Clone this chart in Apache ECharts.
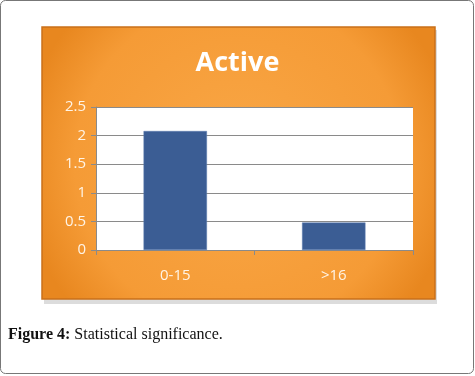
<!DOCTYPE html>
<html>
<head>
<meta charset="utf-8">
<script src="https://cdn.jsdelivr.net/npm/echarts@6/dist/echarts.min.js"></script>
<style>
  html, body { margin: 0; padding: 0; background: #fff; }
  #main { width: 475px; height: 376px; }
</style>
</head>
<body>
<div id="main"></div>
<script>
// chart data
var categories = ['0-15', '>16'];
var values = [2.08, 0.48];
var yTicks = [0, 0.5, 1, 1.5, 2, 2.5];

var myChart = echarts.init(document.getElementById('main'));

myChart.setOption({
    animation: false,
    graphic: [
        // outer frame
        { type: 'rect', shape: { x: 0.5, y: 0.5, width: 473, height: 373, r: 5 },
          style: { fill: '#fff', stroke: '#777', lineWidth: 1 }, z: -10 },
        // shadow of orange panel
        { type: 'rect', shape: { x: 44, y: 30, width: 393, height: 274 },
          style: { fill: '#dcdcdc' }, z: -9 },
        // orange panel
        { type: 'rect', shape: { x: 42, y: 27, width: 393, height: 272 },
          style: {
              fill: new echarts.graphic.RadialGradient(0.5, 0.5, 0.8, [
                  { offset: 0, color: '#f9a746' },
                  { offset: 0.75, color: '#f59b36' },
                  { offset: 1, color: '#e8871f' }
              ]),
              stroke: '#c9701a', lineWidth: 1.5
          }, z: -8 },
        // caption
        { type: 'text', left: 8, top: 327,
          style: {
              text: '{b|Figure 4:} Statistical significance.',
              rich: {
                  b: { fontFamily: 'Liberation Serif', fontWeight: 'bold', fontSize: 16, fill: '#111' }
              },
              fontFamily: 'Liberation Serif', fontSize: 16, fill: '#111'
          } }
    ],
    title: {
        text: 'Active',
        left: 'center',
        top: 45,
        textStyle: { color: '#fff', fontSize: 27, fontWeight: 'bold', fontFamily: 'Open Sans' }
    },
    grid: {
        left: 96, right: 62, top: 107, bottom: 126,
        show: true, backgroundColor: '#fff', borderWidth: 0
    },
    xAxis: {
        type: 'category',
        data: categories,
        axisLine: { lineStyle: { color: '#8a8a8a' } },
        axisTick: { show: true, length: 5, lineStyle: { color: '#8a8a8a' } },
        axisLabel: { color: '#fff4e6', fontSize: 15, margin: 18, fontFamily: 'Open Sans' }
    },
    yAxis: {
        type: 'value',
        min: yTicks[0],
        max: yTicks[yTicks.length - 1],
        interval: 0.5,
        axisLine: { show: true, lineStyle: { color: '#8a8a8a' } },
        axisTick: { show: true, length: 5, lineStyle: { color: '#8a8a8a' } },
        splitLine: { lineStyle: { color: '#8a8a8a', width: 1 } },
        axisLabel: { color: '#fff4e6', fontSize: 15, margin: 10, fontFamily: 'Open Sans' }
    },
    series: [{
        type: 'bar',
        data: values,
        barWidth: '40%',
        itemStyle: { color: '#3b5d94', borderColor: '#5b7db0', borderWidth: 0.5 }
    }]
});
</script>
</body>
</html>
